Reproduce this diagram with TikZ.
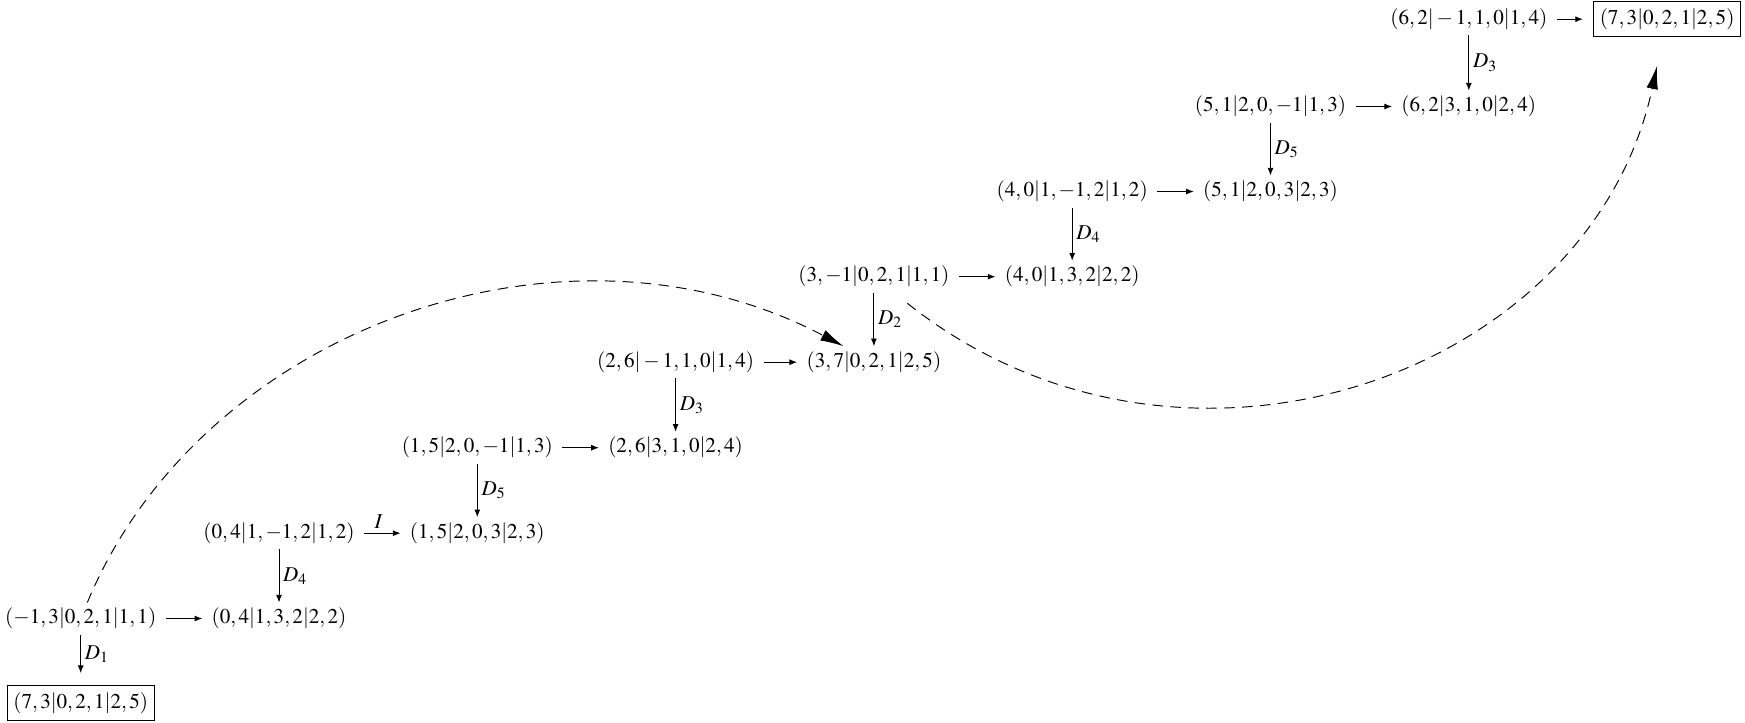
\documentclass[tikz,border=0pt]{standalone}
\usepackage{mathptmx}
\usetikzlibrary{arrows.meta}
\begin{document}
\begin{tikzpicture}[x=0.474pt,y=-0.474pt,
  obj/.style={inner xsep=4.5pt, inner ysep=2.6pt, outer sep=0pt},
  fin/.style={draw, line width=0.4pt, inner xsep=3pt, inner ysep=3.3pt, outer xsep=5pt, outer ysep=6pt},
  ar/.style={-{Latex[length=3.6pt,width=2.8pt]}, line width=0.4pt},
  lbl/.style={inner sep=1.8pt, font=\normalsize},
  dcurve/.style={dash pattern=on 5pt off 3.5pt, line width=0.45pt, -{Latex[length=11pt,width=5.5pt]}}]
\useasboundingbox (0,0) rectangle (1745,722);
% row 0
\node[obj] (L0) at (1468.8,19.2) {$(6,2|-1,1,0|1,4)$};
\node[fin] (R0) at (1667.1,19.2) {$(7,3|0,2,1|2,5)$};
% row 1
\node[obj] (L1) at (1270.5,106.5) {$(5,1|2,0,-1|1,3)$};
\node[obj] (R1) at (1468.8,106.5) {$(6,2|3,1,0|2,4)$};
% row 2
\node[obj] (L2) at (1072.2,191.5) {$(4,0|1,-1,2|1,2)$};
\node[obj] (R2) at (1270.5,191.5) {$(5,1|2,0,3|2,3)$};
% row 3
\node[obj] (L3) at (873.9,276.7) {$(3,-1|0,2,1|1,1)$};
\node[obj] (R3) at (1072.2,276.7) {$(4,0|1,3,2|2,2)$};
% row 4
\node[obj] (L4) at (675.6,362.2) {$(2,6|-1,1,0|1,4)$};
\node[obj] (R4) at (873.9,362.2) {$(3,7|0,2,1|2,5)$};
% row 5
\node[obj] (L5) at (477.3,447.7) {$(1,5|2,0,-1|1,3)$};
\node[obj] (R5) at (675.6,447.7) {$(2,6|3,1,0|2,4)$};
% row 6
\node[obj] (L6) at (279.0,533.2) {$(0,4|1,-1,2|1,2)$};
\node[obj] (R6) at (477.3,533.2) {$(1,5|2,0,3|2,3)$};
% row 7
\node[obj] (L7) at (80.7,618.5) {$(-1,3|0,2,1|1,1)$};
\node[obj] (R7) at (279.0,618.5) {$(0,4|1,3,2|2,2)$};
% row 8
\node[fin] (B) at (80.7,703.2) {$(7,3|0,2,1|2,5)$};
% horizontal arrows
\draw[ar] (L0) -- (R0);
\draw[ar] (L1) -- (R1);
\draw[ar] (L2) -- (R2);
\draw[ar] (L3) -- (R3);
\draw[ar] (L4) -- (R4);
\draw[ar] (L5) -- (R5);
\draw[ar] (L6) -- node[lbl, above, pos=0.4] {$I$} (R6);
\draw[ar] (L7) -- (R7);
% vertical arrows
\draw[ar] (L0) -- node[lbl, right] {$D_3$} (R1);
\draw[ar] (L1) -- node[lbl, right] {$D_5$} (R2);
\draw[ar] (L2) -- node[lbl, right] {$D_4$} (R3);
\draw[ar] (L3) -- node[lbl, right] {$D_2$} (R4);
\draw[ar] (L4) -- node[lbl, right] {$D_3$} (R5);
\draw[ar] (L5) -- node[lbl, right] {$D_5$} (R6);
\draw[ar] (L6) -- node[lbl, right] {$D_4$} (R7);
\draw[ar] (L7) -- node[lbl, right] {$D_1$} (B);
% dashed curves
\draw[dcurve] (L7) .. controls (201,329) and (564,199) .. (R4);
\draw[dcurve, shorten <=8pt, shorten >=8pt] (L3) .. controls (1180,520) and (1590,378) .. (R0);
\end{tikzpicture}
\end{document}
